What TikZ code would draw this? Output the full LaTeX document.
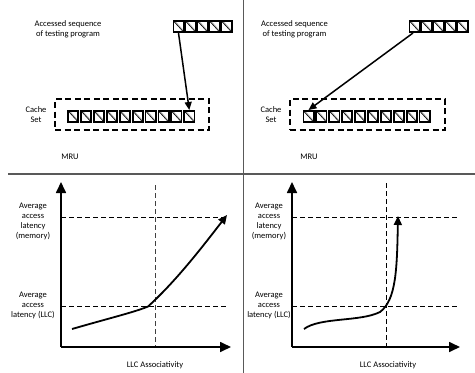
\documentclass[tikz,border=0pt]{standalone}
\usepackage{fontspec}
\setmainfont{Carlito}
\usetikzlibrary{arrows.meta,calc}
\tikzset{
  cell/.style={draw, line width=1.8pt, minimum width=10.2pt, minimum height=11.2pt, inner sep=0pt, fill=white,
    path picture={
      \draw[gray!60, line width=1.2pt] ([xshift=1pt]path picture bounding box.north west) -- ([yshift=1pt]path picture bounding box.south east);
      \draw[line width=0.6pt] (path picture bounding box.north west) -- (path picture bounding box.south east);
    }},
  lbl/.style={font=\fontsize{8.5}{10}\selectfont, align=center, inner sep=0pt},
  divider/.style={draw=black!65, line width=1.4pt},
  setbox/.style={draw, line width=1.6pt, dash pattern=on 6pt off 3.5pt},
  guide/.style={draw, line width=0.8pt, dash pattern=on 5pt off 3pt},
  axis/.style={line width=1.7pt, -{Triangle[width=10pt,length=11pt]}},
  curve/.style={line width=1.8pt, -{Triangle[width=8pt,length=9pt]}},
  seqarrow/.style={line width=1.5pt, -{Triangle[width=7pt,length=8pt]}}
}
\begin{document}
\begin{tikzpicture}[x=1pt,y=-1pt]
\useasboundingbox (0,0) rectangle (475,373);
% dividers
\coordinate (vtop) at (243.5,0);
\coordinate (vbot) at (243.5,373);
\coordinate (hl) at (8,174);
\coordinate (hr) at (475,174);
\draw[divider] (vtop) -- (vbot);
\draw[divider] (hl) -- (hr);

% ---------- top left ----------
\node[lbl] (acL) at (68,29.5) {Accessed sequence\\of testing program};
\foreach \i in {1,...,5} {
  \node[cell] (ls\i) at ({178.5+12*(\i-1)},26.5) {};
}
\node[setbox, minimum width=154pt, minimum height=31pt, inner sep=0pt] (lset) at (132,114.5) {};
\foreach \i in {1,...,10} {
  \node[cell] (lc\i) at ({73.2+12.9*(\i-1)},116.5) {};
}
\node[lbl] (lcache) at (36,115) {Cache\\Set};
\node[lbl] (lmru) at (70,157) {MRU};
\draw[seqarrow] (ls1.south) -- (lc10.north);

% ---------- top right ----------
\node[lbl] (acR) at (294.5,29.5) {Accessed sequence\\of testing program};
\foreach \i in {1,...,5} {
  \node[cell] (rs\i) at ({414.5+12*(\i-1)},26.5) {};
}
\node[setbox, minimum width=155pt, minimum height=31pt, inner sep=0pt] (rset) at (367.5,114.5) {};
\foreach \i in {1,...,10} {
  \node[cell] (rc\i) at ({308.5+12.9*(\i-1)},116.5) {};
}
\node[lbl] (rcache) at (271,115) {Cache\\Set};
\node[lbl] (rmru) at (309,157) {MRU};
\draw[seqarrow] ([xshift=-1.5pt]rs1.south) -- (rc1.north);

% ---------- bottom left graph ----------
\coordinate (lo) at (61,347);
\coordinate (lytip) at (61,182);
\coordinate (lxtip) at (231,347);
\coordinate (lm1) at (61,217);
\coordinate (lm2) at (228,217);
\coordinate (ll1) at (61,306);
\coordinate (ll2) at (228,306);
\coordinate (lv1) at (155,185);
\coordinate (lv2) at (155,347);
\draw[guide] (lm1) -- (lm2);
\draw[guide] (ll1) -- (ll2);
\draw[guide, draw=black!75] (lv1) -- (lv2);
\draw[axis] (lo) -- (lytip);
\draw[axis] (lo) -- (lxtip);
\coordinate (lcs) at (72,329);
\coordinate (lck) at (148,306.5);
\coordinate (lce) at (227,215);
\draw[curve] (lcs) .. controls (110,318) and (135,312) .. (lck) .. controls (175,282) and (200,250) .. (lce);
\node[lbl] (lmem) at (33,221) {Average\\access\\latency\\(memory)};
\node[lbl] (lllc) at (33,305) {Average\\access\\latency (LLC)};
\node[lbl] (lxl) at (155,365) {LLC Associativity};

% ---------- bottom right graph ----------
\coordinate (ro) at (292,347);
\coordinate (rytip) at (292,182);
\coordinate (rxtip) at (460,347);
\coordinate (rm1) at (292,217);
\coordinate (rm2) at (459,217);
\coordinate (rl1) at (292,306);
\coordinate (rl2) at (459,306);
\coordinate (rv1) at (386,183);
\coordinate (rv2) at (386,347);
\draw[guide] (rm1) -- (rm2);
\draw[guide] (rl1) -- (rl2);
\draw[guide] (rv1) -- (rv2);
\draw[axis] (ro) -- (rytip);
\draw[axis] (ro) -- (rxtip);
\coordinate (rcs) at (304,329);
\coordinate (rck) at (380,312);
\coordinate (rce) at (398,216);
\draw[curve] (rcs) .. controls (320,317) and (360,322) .. (rck) .. controls (396,300) and (397,270) .. (rce);
\node[lbl] (rmem) at (269,221) {Average\\access\\latency\\(memory)};
\node[lbl] (rllc) at (269,305) {Average\\access\\latency (LLC)};
\node[lbl] (rxl) at (388,365) {LLC Associativity};
\end{tikzpicture}
\end{document}
